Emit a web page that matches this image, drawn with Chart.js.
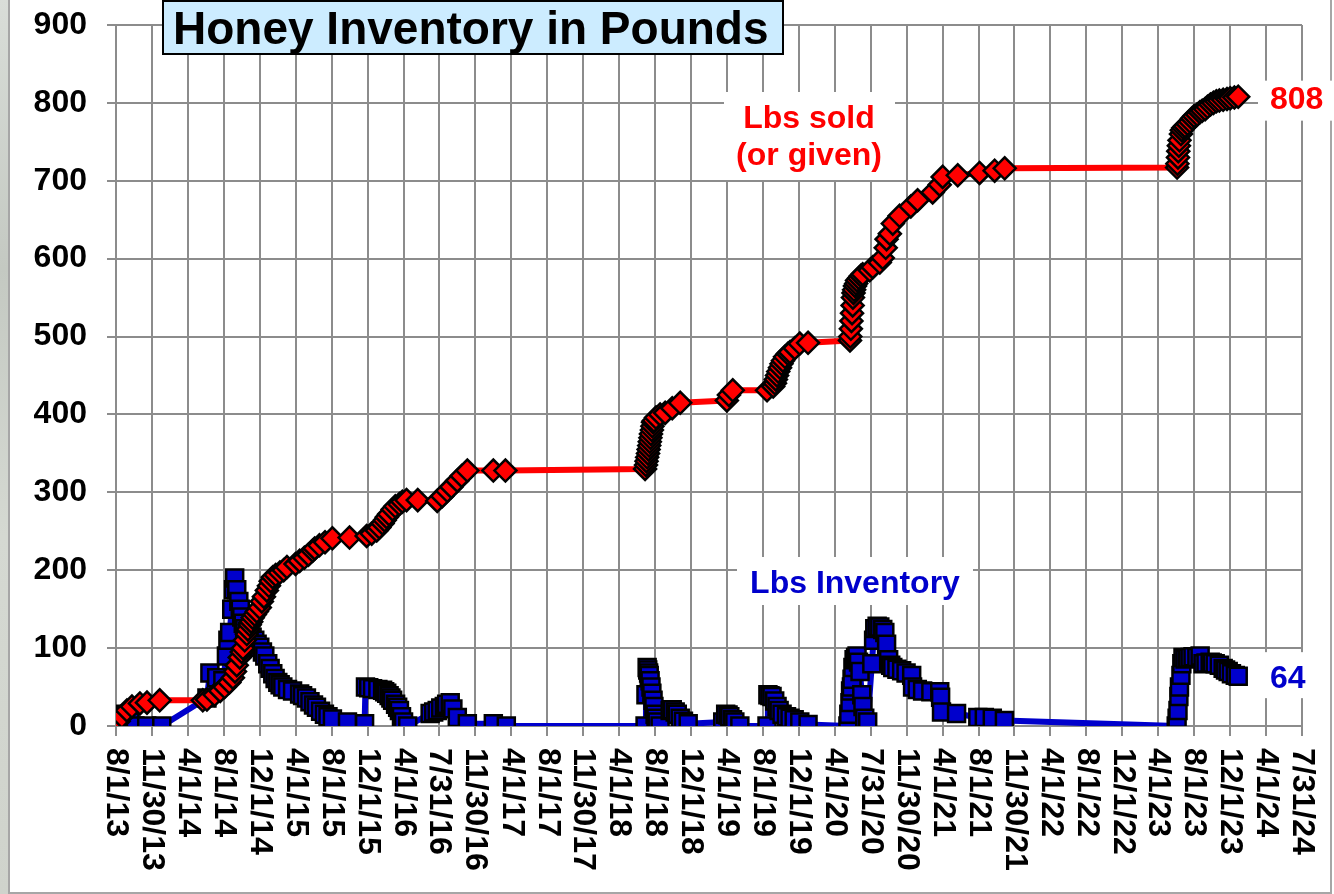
<!DOCTYPE html>
<html>
<head>
<meta charset="utf-8">
<script src="https://cdn.jsdelivr.net/npm/chart.js@4.4.1/dist/chart.umd.min.js"></script>
<style>
html,body{margin:0;padding:0;background:#fff;overflow:hidden}
#c{position:absolute;left:0;top:0}
</style>
</head>
<body>
<canvas id="c" width="1334" height="894"></canvas>
<script>
// ---------------- data ----------------
const TITLE = 'Honey Inventory in Pounds';
const SOLD_LABEL = ['Lbs sold', '(or given)'];
const INV_LABEL = 'Lbs Inventory';

const xTickLabels = ['8/1/13','11/30/13','4/1/14','8/1/14','12/1/14','4/1/15','8/1/15','12/1/15',
  '4/1/16','7/31/16','11/30/16','4/1/17','8/1/17','11/30/17','4/1/18','8/1/18','12/1/18',
  '4/1/19','8/1/19','12/1/19','4/1/20','7/31/20','11/30/20','4/1/21','8/1/21','11/30/21',
  '4/1/22','8/1/22','12/1/22','4/1/23','8/1/23','12/1/23','4/1/24','7/31/24'];

const yMin = 0, yMax = 900, yStep = 100;

const soldDates = [
  '8/1/13','8/10/13','8/21/13','9/7/13','9/24/13','10/21/13','11/14/13','12/27/13','5/22/14','6/5/14',
  '7/1/14','7/20/14','8/4/14','8/20/14','9/1/14','9/8/14','9/14/14','9/24/14','10/1/14','10/5/14',
  '10/11/14','10/18/14','10/22/14','10/28/14','11/2/14','11/7/14','11/14/14','11/21/14','12/1/14','12/8/14',
  '12/15/14','12/25/14','1/1/15','1/7/15','1/14/15','1/24/15','2/7/15','2/20/15','3/3/15','4/1/15',
  '4/15/15','5/1/15','5/15/15','5/29/15','6/5/15','6/21/15','7/10/15','8/4/15','10/1/15','11/28/15',
  '12/15/15','1/1/16','1/10/16','1/21/16','1/28/16','2/4/16','2/12/16','2/24/16','3/4/16','3/18/16',
  '3/28/16','4/11/16','5/19/16','7/24/16','8/10/16','8/27/16','9/10/16','9/30/16','10/15/16','11/3/16',
  '1/30/17','3/12/17','6/28/18','7/1/18','7/3/18','7/5/18','7/8/18','7/10/18','7/12/18','7/14/18',
  '7/16/18','7/18/18','7/21/18','7/23/18','7/25/18','7/28/18','8/4/18','8/18/18','9/4/18','9/28/18',
  '10/25/18','4/1/19','4/8/19','4/21/19','8/15/19','9/5/19','9/11/19','9/14/19','9/18/19','9/22/19',
  '9/28/19','10/3/19','10/8/19','10/15/19','10/25/19','11/1/19','11/17/19','12/4/19','1/1/20','5/22/20',
  '5/23/20','5/25/20','5/27/20','5/29/20','5/31/20','6/1/20','6/3/20','6/5/20','6/8/20','6/12/20',
  '6/15/20','6/22/20','6/28/20','7/4/20','7/28/20','8/7/20','8/31/20','9/10/20','9/20/20','9/23/20',
  '10/4/20','10/14/20','11/6/20','12/14/20','1/6/21','2/26/21','3/22/21','4/1/21','5/22/21','8/4/21',
  '9/24/21','10/28/21','6/4/23','6/5/23','6/7/23','6/8/23','6/10/23','6/12/23','6/17/23','6/20/23',
  '6/25/23','7/1/23','7/10/23','7/18/23','7/25/23','8/1/23','8/11/23','8/20/23','8/28/23','9/7/23',
  '9/15/23','9/25/23','10/5/23','10/15/23','10/25/23','11/7/23','11/20/23','12/1/23','12/15/23','12/28/23'];
const soldLbs = [
  0,6,12,20,25,29,30,33,33,34,
  40,45,50,56,62,70,78,88,95,100,
  110,118,124,130,134,139,143,147,152,160,
  166,174,180,186,191,194,197,200,204,208,
  212,216,220,225,228,232,236,241,242,244,
  247,251,255,260,264,268,272,278,282,285,
  288,290,290,289,295,302,307,315,321,328,
  328,328,330,335,340,345,350,355,360,365,
  370,375,380,385,390,392,396,400,402,408,
  415,418,425,431,431,436,440,445,450,455,
  460,465,469,474,478,480,485,491,492,495,
  500,510,520,530,540,550,556,560,565,568,
  572,575,578,580,585,589,595,601,614,625,
  632,645,655,667,675,685,695,705,707,710,
  713,716,717,722,730,738,745,752,760,765,
  768,770,773,776,780,783,785,788,790,792,
  795,798,800,802,803,804,805,806,807,808];

const invDates = [
  '8/1/13','8/15/13','8/31/13','9/10/13','9/17/13','10/4/13','11/13/13','1/3/14','6/5/14','6/15/14',
  '7/8/14','7/29/14','8/10/14','8/15/14','8/21/14','8/28/14','9/3/14','9/7/14','9/14/14','9/21/14',
  '9/26/14','10/1/14','10/6/14','10/11/14','10/20/14','10/28/14','11/5/14','11/14/14','11/22/14','12/1/14',
  '12/10/14','12/18/14','12/28/14','1/5/15','1/14/15','1/22/15','1/31/15','2/8/15','2/17/15','3/5/15',
  '3/22/15','4/15/15','4/25/15','5/8/15','5/20/15','6/1/15','6/11/15','6/25/15','7/8/15','7/20/15',
  '8/4/15','9/24/15','11/21/15','11/24/15','12/5/15','12/18/15','1/5/16','1/21/16','1/28/16','2/4/16',
  '2/12/16','2/18/16','2/24/16','3/5/16','3/12/16','3/18/16','3/25/16','4/1/16','4/15/16','6/30/16',
  '7/12/16','7/24/16','8/5/16','8/17/16','8/25/16','9/6/16','9/15/16','9/30/16','11/3/16','1/30/17',
  '3/15/17','6/28/18','7/1/18','7/5/18','7/7/18','7/10/18','7/12/18','7/15/18','7/18/18','7/21/18',
  '7/25/18','7/28/18','8/1/18','8/4/18','8/8/18','8/18/18','9/21/18','9/28/18','10/8/18','10/15/18',
  '10/25/18','11/5/18','11/21/18','3/18/19','3/28/19','4/5/19','4/11/19','4/20/19','4/28/19','5/15/19',
  '8/15/19','8/18/19','8/25/19','9/1/19','9/10/19','9/18/19','9/25/19','10/5/19','10/20/19','11/1/19',
  '11/15/19','12/4/19','1/1/20','5/15/20','5/18/20','5/22/20','5/24/20','5/27/20','5/29/20','6/1/20',
  '6/5/20','6/10/20','6/15/20','6/20/20','6/25/20','7/1/20','7/5/20','7/11/20','7/21/20','8/4/20',
  '8/10/20','8/14/20','8/22/20','8/31/20','9/10/20','9/17/20','9/23/20','9/30/20','10/7/20','10/14/20',
  '10/28/20','11/13/20','11/28/20','12/17/20','12/20/20','1/5/21','1/23/21','2/20/21','3/22/21','3/25/21',
  '3/28/21','5/18/21','7/29/21','8/20/21','9/16/21','10/27/21','6/1/23','6/4/23','6/7/23','6/10/23',
  '6/12/23','6/17/23','6/20/23','6/24/23','7/1/23','7/10/23','7/18/23','7/28/23','8/10/23','8/21/23',
  '8/31/23','9/10/23','9/24/23','10/1/23','10/11/23','10/25/23','11/7/23','11/15/23','11/24/23','12/5/23',
  '12/18/23','12/28/23'];
const invLbs = [
  10,13,15,10,5,0,0,0,36,68,
  62,58,90,110,120,150,175,190,175,160,
  150,140,132,125,121,118,114,110,105,101,
  95,90,80,74,67,61,56,53,50,47,
  45,41,39,36,31,27,24,19,15,12,
  9,5,3,50,49,48,47,46,44,42,
  39,36,33,28,24,20,12,5,0,16,
  18,20,23,25,28,30,22,11,3,3,
  0,0,40,75,72,68,65,58,50,42,
  33,25,15,10,5,0,20,21,18,15,
  10,6,3,5,15,14,12,8,5,0,
  0,40,39,38,32,25,20,15,12,10,
  8,5,2,0,15,30,45,50,60,75,
  85,88,90,82,70,40,25,10,5,80,
  110,125,128,127,124,120,105,85,78,75,
  73,71,68,65,50,47,45,44,44,37,
  18,16,11,11,10,7,0,10,20,38,
  50,65,80,88,86,87,88,89,88,90,
  80,81,82,81,80,78,74,72,70,67,
  65,64];

// ---------------- helpers ----------------
const BASE = Date.UTC(2013, 7, 1);
function dayNum(s) {
  const [m, d, y] = s.split('/').map(Number);
  return (Date.UTC(2000 + y, m - 1, d) - BASE) / 86400000;
}
const FONT = '"Liberation Sans", Arial, Helvetica, sans-serif';
Chart.defaults.font.family = FONT;

const soldPts = soldDates.map((d, i) => ({x: dayNum(d), y: soldLbs[i]}));
const invPts = invDates.map((d, i) => ({x: dayNum(d), y: invLbs[i]}));

// ---------------- plugins ----------------
const framePlugin = {
  id: 'frame',
  beforeDraw(chart) {
    const ctx = chart.ctx;
    ctx.save();
    ctx.fillStyle = '#ffffff';
    ctx.fillRect(0, 0, chart.width, chart.height);
    const g = ctx.createLinearGradient(0, 0, 0, chart.height);
    g.addColorStop(0, '#d9ddd8');
    g.addColorStop(0.3, '#c4c9c2');
    g.addColorStop(0.6, '#d5d9d2');
    g.addColorStop(1, '#cfd3cc');
    ctx.fillStyle = g;
    ctx.fillRect(0, 0, 8, chart.height);
    ctx.strokeStyle = '#a6a6a6';
    ctx.lineWidth = 2;
    ctx.strokeRect(9, -4, 1322, 897);
    ctx.restore();
  }
};

function textBox(ctx, x, y, w, h) {
  ctx.fillStyle = '#ffffff';
  ctx.fillRect(x, y, w, h);
}

const decoPlugin = {
  id: 'deco',
  afterDraw(chart) {
    const ctx = chart.ctx, xs = chart.scales.x, ys = chart.scales.y, ca = chart.chartArea;
    ctx.save();
    // rotated x tick labels (reading downward)
    ctx.font = 'bold 32px ' + FONT;
    ctx.fillStyle = '#000';
    ctx.textAlign = 'left';
    ctx.textBaseline = 'middle';
    xTickLabels.forEach(l => {
      const px = xs.getPixelForValue(dayNum(l));
      ctx.save();
      ctx.translate(px, ca.bottom + 22);
      ctx.rotate(Math.PI / 2);
      ctx.fillText(l, 0, 0);
      ctx.restore();
    });

    // series labels
    ctx.textBaseline = 'alphabetic';
    ctx.textAlign = 'center';
    textBox(ctx, 724, 92, 171, 88);
    ctx.fillStyle = '#ff0000';
    ctx.fillText(SOLD_LABEL[0], 809, 128);
    ctx.fillText(SOLD_LABEL[1], 809, 165);

    textBox(ctx, 737, 557, 236, 48);
    ctx.fillStyle = '#0000cc';
    ctx.fillText(INV_LABEL, 855, 593);

    // end-value labels
    ctx.textAlign = 'left';
    const lastSold = soldLbs[soldLbs.length - 1];
    const lastInv = invLbs[invLbs.length - 1];
    const ySold = ys.getPixelForValue(lastSold);
    const yInv = ys.getPixelForValue(lastInv);
    const wS = ctx.measureText(String(lastSold)).width;
    const wI = ctx.measureText(String(lastInv)).width;
    textBox(ctx, 1258, ySold - 16, wS + 22, 40);
    textBox(ctx, 1258, yInv - 24, wI + 22, 46);
    ctx.fillStyle = '#ff0000';
    ctx.fillText(String(lastSold), 1270, ySold + 12);
    ctx.fillStyle = '#0000cc';
    ctx.fillText(String(lastInv), 1270, yInv + 12);

    // title box
    ctx.fillStyle = '#ccecff';
    ctx.fillRect(163, 1, 620, 53);
    ctx.strokeStyle = '#000';
    ctx.lineWidth = 2;
    ctx.strokeRect(163, 1, 620, 53);
    ctx.fillStyle = '#000';
    ctx.font = 'bold 46px ' + FONT;
    ctx.fillText(TITLE, 173, 44);
    ctx.restore();
  }
};

// ---------------- chart ----------------
new Chart(document.getElementById('c'), {
  type: 'line',
  data: {
    datasets: [
      {
        label: 'Lbs sold (or given)',
        data: soldPts,
        order: 0,
        borderColor: '#ff0000',
        borderWidth: 6,
        borderJoinStyle: 'round',
        tension: 0,
        fill: false,
        pointStyle: 'rectRot',
        pointRadius: 11,
        pointBackgroundColor: '#ff0000',
        pointBorderColor: '#000000',
        pointBorderWidth: 2.5
      },
      {
        label: 'Lbs Inventory',
        data: invPts,
        order: 1,
        borderColor: '#0000cc',
        borderWidth: 6,
        borderJoinStyle: 'round',
        tension: 0,
        fill: false,
        pointStyle: 'rect',
        pointRadius: 12,
        pointBackgroundColor: '#0000cc',
        pointBorderColor: '#000000',
        pointBorderWidth: 2.5
      }
    ]
  },
  options: {
    responsive: false,
    animation: false,
    devicePixelRatio: 1,
    events: [],
    layout: { padding: { top: 25, right: 32, left: 0, bottom: 0 } },
    plugins: { legend: { display: false }, tooltip: { enabled: false }, title: { display: false } },
    scales: {
      x: {
        type: 'linear',
        min: dayNum(xTickLabels[0]),
        max: dayNum(xTickLabels[xTickLabels.length - 1]),
        afterBuildTicks: (axis) => { axis.ticks = xTickLabels.map(l => ({ value: dayNum(l) })); },
        afterFit: (axis) => { axis.height = 168; axis.paddingLeft = 0; axis.paddingRight = 0; },
        ticks: { display: false },
        grid: { color: '#8c8c8c', lineWidth: 2, tickLength: 10, drawTicks: true },
        border: { display: false }
      },
      y: {
        min: yMin, max: yMax,
        afterFit: (axis) => { axis.width = 116; axis.paddingTop = 0; axis.paddingBottom = 0; },
        ticks: { stepSize: yStep, color: '#000', padding: 20, font: { size: 32, weight: 'bold' } },
        grid: { color: '#8c8c8c', lineWidth: 2, tickLength: 9, drawTicks: true },
        border: { display: false }
      }
    }
  },
  plugins: [framePlugin, decoPlugin]
});
</script>
</body>
</html>
